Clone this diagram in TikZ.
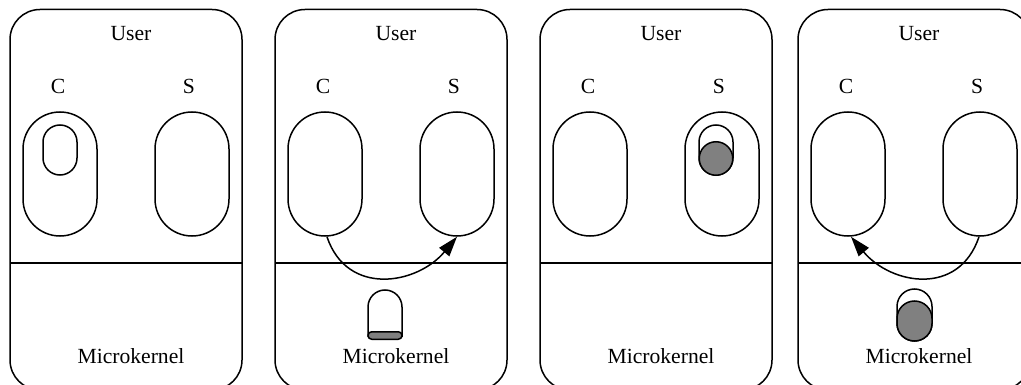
\documentclass[tikz,border=0pt]{standalone}
\usepackage{fontspec}
\setmainfont{Liberation Serif}
\usetikzlibrary{arrows.meta}
\definecolor{fillgrey}{RGB}{128,128,128}
\tikzset{
  ln/.style={line width=1.5pt},
  panelbox/.style={ln, draw, rounded corners=30pt},
  proc/.style={draw, ln, rectangle, minimum width=74pt, minimum height=124pt, rounded corners=37pt, inner sep=0pt},
  lbl/.style={font=\fontsize{21.6pt}{26pt}\selectfont, anchor=base, inner sep=0pt},
  pill/.style={draw, ln, rectangle, inner sep=0pt, minimum width=34pt, minimum height=50pt, rounded corners=17pt, fill=white},
  greyfill/.style={fill=fillgrey},
  ipc/.style={ln, -{Triangle[length=20pt,width=13pt]}},
}
\begin{document}
\begin{tikzpicture}[x=1pt,y=-1pt]
\useasboundingbox (0,0) rectangle (1021,385);
\clip (0,0) rectangle (1021,385);
\foreach \i/\xo in {1/10,2/275,3/540,4/798} {
  \begin{scope}[shift={(\xo,0)}]
    \draw[panelbox] (0,9.5) rectangle (232,390);
    \draw[ln] (0,263) -- (232,263);
    \node[lbl] (user\i) at (121,41) {User};
    \node[lbl] (mk\i) at (121,363) {Microkernel};
    \node[lbl] (cl\i) at (48,94) {C};
    \node[lbl] (sl\i) at (179,94) {S};
    \node[proc] (c\i) at (50,174) {};
    \node[proc] (s\i) at (182,174) {};
  \end{scope}
}
% panel 1: thread inside C
\node[pill] (t1) at (60,150) {};
% panel 2: message in kernel
\draw[ln, fill=white, rounded corners=17pt] (368,337) -- (368,290) -- (402,290) -- (402,337);
\node[draw, ln, greyfill, rectangle, inner sep=0pt, minimum width=34pt, minimum height=7.5pt, rounded corners=3.7pt] (m2) at (385,335.5) {};
% panel 3: thread inside S
\node[pill] (t3) at (716,150) {};
\node[draw, ln, greyfill, circle, inner sep=0pt, minimum size=33.5pt] (g3) at (716,158.5) {};
% panel 4: reply in kernel
\node[pill, minimum width=35pt, minimum height=52pt, rounded corners=17.5pt] (t4) at (914.5,315) {};
\node[pill, greyfill, minimum width=35pt, minimum height=40pt, rounded corners=17.5pt] (g4) at (914.5,321) {};
% IPC arrows
\draw[ipc] ([xshift=2pt]c2.south) .. controls +(20,60) and +(-40,48) .. (s2.south);
\draw[ipc] ([xshift=-1pt]s4.south) .. controls +(-20,60) and +(40,48) .. ([xshift=3pt]c4.south);
\end{tikzpicture}
\end{document}
